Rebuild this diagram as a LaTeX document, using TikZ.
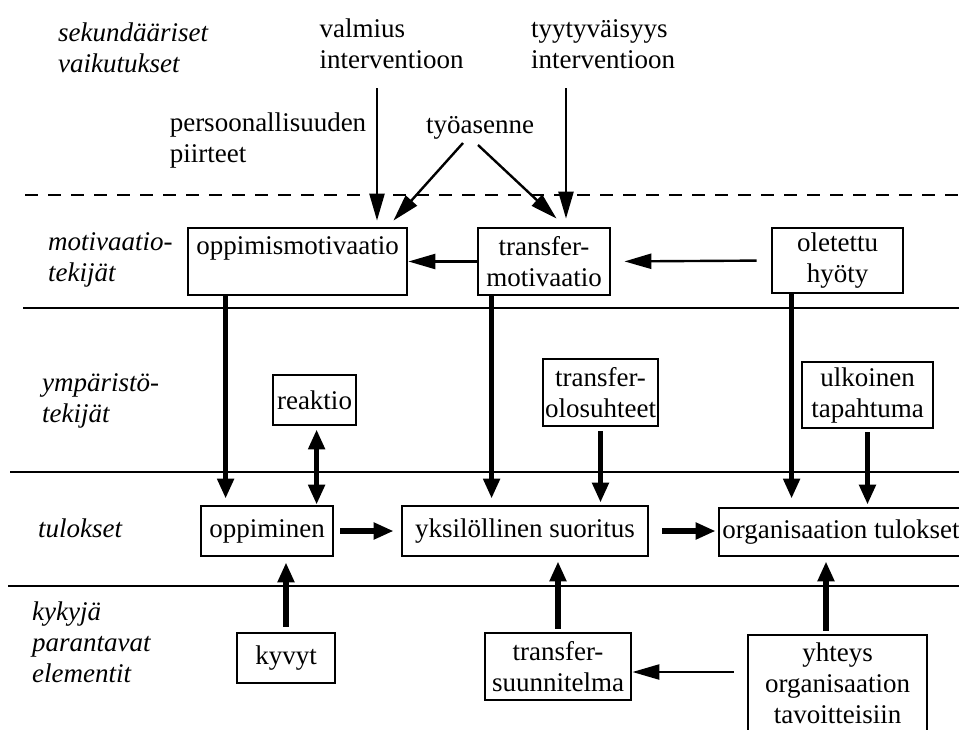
\documentclass[tikz,border=0pt]{standalone}
\usepackage{fontspec}
\setmainfont{Liberation Serif}
\usetikzlibrary{arrows.meta}

\tikzset{
  box/.style={draw, line width=2.8pt, inner sep=0pt, align=center},
  txt/.style={inner sep=0pt, align=left},
  italic/.style={font=\fontsize{27}{31}\selectfont\itshape, inner sep=0pt, align=left, anchor=west},
  rule/.style={line width=2.6pt},
  thinarrow/.style={line width=2.4pt, -{Triangle[length=27pt,width=15pt]}},
  thickarrow/.style={line width=5.5pt, -{Triangle[length=20pt,width=16pt]}},
  boththick/.style={line width=5.5pt, {Triangle[length=20pt,width=16pt]}-{Triangle[length=20pt,width=16pt]}}
}

\begin{document}
\begin{tikzpicture}[x=1pt, y=-1pt, font=\fontsize{27}{31}\selectfont]
\clip (0,0) rectangle (959,729);
\fill[white] (0,0) rectangle (959,729);

% layer separators
\draw[line width=1.4pt, dash pattern=on 13pt off 10pt] (25,195) -- (959,195);
\draw[rule] (23,308) -- (959,308);
\draw[rule] (10,472) -- (959,472);
\draw[rule] (8,586) -- (959,586);

% layer titles
\node[italic] (l1) at (58,48) {sekundääriset\\vaikutukset};
\node[italic] (l2) at (48,260) {motivaatio-\\tekijät};
\node[italic] (l3) at (42,401) {ympäristö-\\tekijät};
\node[italic] (l4) at (38,528) {tulokset};
\node[italic] (l5) at (32,642) {kykyjä\\parantavat\\elementit};

% secondary influences
\node[txt] (va) at (391.5,44) {valmius\\interventioon};
\node[txt] (tv) at (603,44) {tyytyväisyys\\interventioon};
\node[txt] (pp) at (268,141) {persoonallisuuden\\piirteet};
\node[txt] (ta) at (480,128) {työasenne};

% boxes
\node[box, minimum width=219pt, minimum height=67pt] (om) at (297.5,261.5) {oppimismotivaatio\\\mbox{}};
\node[box, minimum width=132pt, minimum height=67pt] (tm) at (544,261.5) {transfer-\\motivaatio};
\node[box, minimum width=131pt, minimum height=65pt] (oh) at (837.5,260.5) {oletettu\\hyöty};
\node[box, minimum width=83pt, minimum height=50pt] (re) at (314.5,400) {reaktio};
\node[box, minimum width=115pt, minimum height=67pt] (to) at (600.5,392.5) {transfer-\\olosuhteet};
\node[box, minimum width=131pt, minimum height=66pt] (ut) at (867.5,395) {ulkoinen\\tapahtuma};
\node[box, minimum width=132pt, minimum height=50pt] (op) at (267,531) {oppiminen};
\node[box, minimum width=246pt, minimum height=50pt] (ys) at (525,531) {yksilöllinen suoritus};
\node[box, minimum width=244pt, minimum height=48pt] (ot) at (841,532) {organisaation tulokset};
\node[box, minimum width=98pt, minimum height=50pt] (ky) at (286,658) {kyvyt};
\node[box, minimum width=146pt, minimum height=67pt] (ts) at (558,666.5) {transfer-\\suunnitelma};
\node[box, minimum width=179pt, minimum height=125pt] (yh) at (837.5,697.5) {};
\node[inner sep=0pt, align=center] (yht) at (837.5,683) {yhteys\\organisaation\\tavoitteisiin};

% free ends of the upper arrows
\coordinate (vaA) at (377,88);
\coordinate (tvA) at (566,88);
\coordinate (taL) at (463,143);
\coordinate (taR) at (478,145);

% secondary influences on motivation
\draw[thinarrow, shorten >=6pt] (vaA) -- (vaA |- om.north);
\draw[thinarrow, shorten >=8pt] (tvA) -- (tvA |- tm.north);
\draw[thinarrow] (taL) -- ([xshift=-15pt, yshift=6pt]om.north east);
\draw[thinarrow] (taR) -- ([xshift=80pt, yshift=8pt]tm.north west);

% motivation chain
\draw[thinarrow] (tm.west) -- (om.east);
\draw[thinarrow, shorten <=14pt, shorten >=13pt] (oh.west) -- (tm.east);

% motivation to outcomes
\draw[thickarrow, shorten >=6pt] ([xshift=39pt]om.south west) -- ([xshift=26pt]op.north west);
\draw[thickarrow, shorten >=6pt] ([xshift=15pt]tm.south west) -- ([xshift=91pt]ys.north west);
\draw[thickarrow, shorten >=8pt] ([xshift=21pt]oh.south west) -- ([xshift=74pt]ot.north west);

% environment
\draw[boththick, shorten <=3pt] ([xshift=45pt]re.south west) -- ([xshift=117pt]op.north west);
\draw[thickarrow, shorten <=4pt, shorten >=2pt] (to.south) -- (to.south |- ys.north);
\draw[thickarrow, shorten <=3pt, shorten >=2pt] (ut.south) -- (ut.south |- ot.north);

% outcome chain
\draw[thickarrow, shorten <=6pt, shorten >=7pt] (op.east) -- (op.east -| ys.west);
\draw[thickarrow, shorten <=13pt, shorten >=2pt] (ys.east) -- (ys.east -| ot.west);

% ability-enhancing elements
\draw[thickarrow, shorten <=5pt, shorten >=5pt] (ky.north) -- (ky.north |- op.south);
\draw[thickarrow, shorten <=3pt, shorten >=4pt] (ts.north) -- (ts.north |- ys.south);
\draw[thickarrow, shorten <=3pt, shorten >=4pt] ([xshift=-11.5pt]yh.north) -- ([xshift=-11.5pt]yh.north |- ot.south);
\draw[thinarrow, shorten <=13pt] ([yshift=-5.5pt]yh.west |- ts.east) -- ([yshift=-5.5pt]ts.east);
\end{tikzpicture}
\end{document}
